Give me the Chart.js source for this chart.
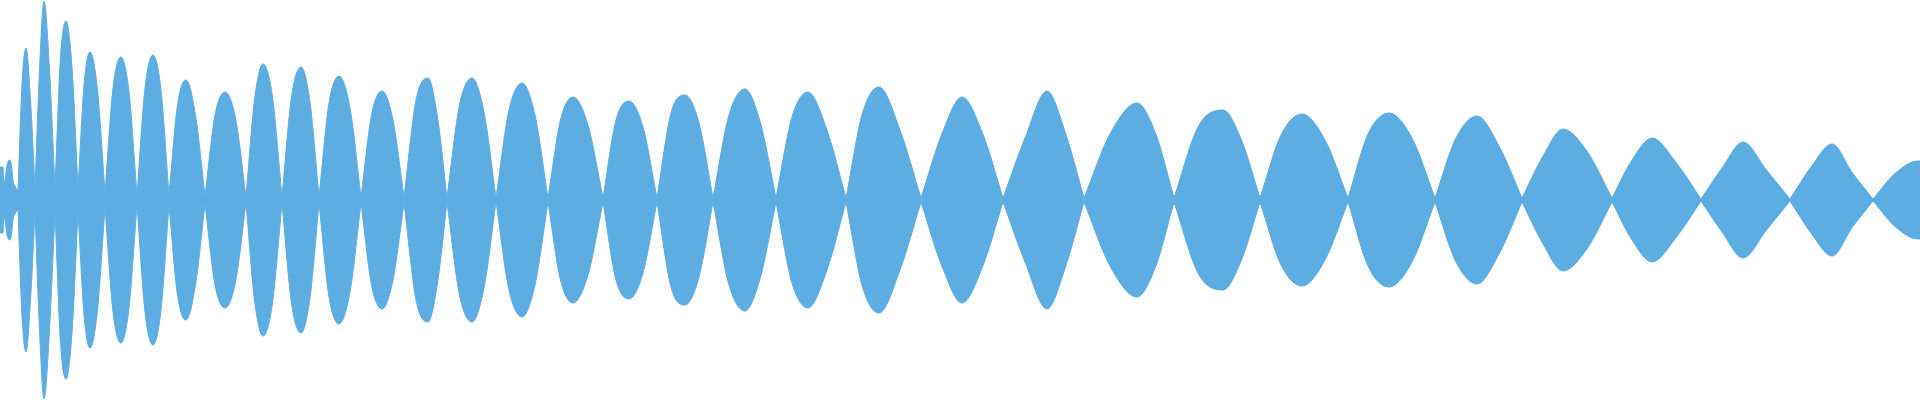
<!DOCTYPE html>
<html>
<head>
<meta charset="utf-8">
<script src="https://cdn.jsdelivr.net/npm/chart.js@4/dist/chart.umd.min.js"></script>
<style>
html,body{margin:0;padding:0;background:#ffffff;}
#wrap{width:1920px;height:400px;position:relative;}
</style>
</head>
<body>
<div id="wrap"><canvas id="c"></canvas></div>
<script>
// Lead-in (noisy start of the waveform): sample positions and amplitudes
const leadX   = [0, 3, 4, 5, 7, 10, 12, 13, 15, 17, 18];
const leadAmp = [33, 33, 18, 20, 35, 40, 30, 20, 14, 11, 10];

// Zero crossings between lobes, and the amplitude of the waist at each crossing
const crossX   = [18, 35, 55, 78, 105, 137, 169, 205, 246, 282, 319, 361, 404, 447, 496, 548, 603, 657, 713, 776, 846, 921, 1003, 1084, 1174, 1260, 1348, 1435, 1522, 1612, 1701, 1790, 1873, 1920];
const waistAmp = [10, 12, 12, 11, 7, 5, 5, 4, 3, 3, 3, 3, 3, 2, 2, 2, 2, 2, 2, 2, 2, 2, 2, 2, 2, 2, 2, 2, 2, 2, 1, 1, 1, 39];

// Per lobe: peak position, peak amplitude, amplitude half way up, amplitude half way down
const peakX   = [26, 44, 66, 90, 121, 153, 186, 225, 263, 301, 339, 382, 428, 472, 522, 573, 629, 685, 745, 808, 879, 962, 1047, 1137, 1223, 1302, 1389, 1477, 1563, 1652, 1743, 1832, 1918];
const peakAmp = [152, 199, 179, 148, 143, 145, 120, 108, 136, 133, 124, 109, 122, 122, 117, 103, 99, 105, 111, 108, 113, 103, 109, 97, 90, 86, 87, 84, 71, 62, 58, 56, 39];
const riseAmp = [116, 130, 143, 115, 112, 112, 95, 85, 100, 103, 97, 85, 100, 95, 90, 80, 80, 87, 85, 83, 87, 65, 62, 67, 74, 65, 67, 62, 43, 40, 32, 33, 27];
const fallAmp = [100, 130, 133, 110, 108, 110, 85, 82, 103, 98, 92, 80, 83, 88, 85, 75, 73, 77, 77, 70, 70, 67, 67, 67, 60, 60, 62, 53, 48, 37, 30, 27, 39];

const COLOR = '#5dade2';

function buildPoints(sign) {
  const pts = [];
  for (let i = 0; i < leadX.length; i++) pts.push({x: leadX[i], y: sign * leadAmp[i]});
  pts.push({x: leadX[leadX.length - 1], y: null});
  for (let i = 0; i < peakX.length; i++) {
    const c0 = crossX[i], c1 = crossX[i + 1], p = peakX[i];
    pts.push({x: c0, y: sign * waistAmp[i]});
    pts.push({x: (c0 + p) / 2, y: sign * riseAmp[i]});
    pts.push({x: p, y: sign * peakAmp[i]});
    pts.push({x: (p + c1) / 2, y: sign * fallAmp[i]});
    pts.push({x: c1, y: sign * waistAmp[i + 1]});
    pts.push({x: c1, y: null});
  }
  return pts;
}

const ds = (sign) => ({
  data: buildPoints(sign),
  borderColor: COLOR,
  backgroundColor: COLOR,
  borderWidth: 1,
  pointRadius: 0,
  pointHoverRadius: 0,
  fill: 'origin',
  spanGaps: false,
  cubicInterpolationMode: 'monotone'
});

new Chart(document.getElementById('c'), {
  type: 'line',
  data: { datasets: [ds(1), ds(-1)] },
  options: {
    responsive: true,
    maintainAspectRatio: false,
    animation: false,
    events: [],
    layout: { padding: 0 },
    plugins: { legend: { display: false }, tooltip: { enabled: false }, title: { display: false } },
    scales: {
      x: { type: 'linear', min: 0, max: 1920, display: false },
      y: { type: 'linear', min: -200, max: 200, display: false }
    }
  }
});
</script>
</body>
</html>
